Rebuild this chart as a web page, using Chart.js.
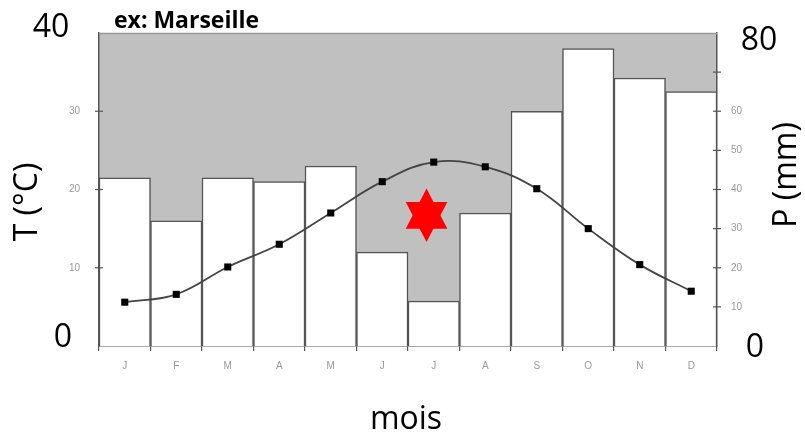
<!DOCTYPE html>
<html>
<head>
<meta charset="utf-8">
<script src="https://cdn.jsdelivr.net/npm/chart.js@4/dist/chart.umd.min.js"></script>
<style>
  html, body { margin: 0; padding: 0; background: #fff; }
  #wrap { width: 805px; height: 433px; position: relative; }
</style>
</head>
<body>
<div id="wrap"><canvas id="c"></canvas></div>
<script>
// Climate diagram for Marseille: monthly rainfall (bars) and mean temperature (line)
const months = ['J', 'F', 'M', 'A', 'M', 'J', 'J', 'A', 'S', 'O', 'N', 'D'];
const precipitation = [43, 32, 43, 42, 46, 24, 11.5, 34, 60, 76, 68.5, 65];
const temperature = [5.6, 6.6, 10.1, 13.0, 17.0, 21.0, 23.5, 22.9, 20.1, 15.0, 10.4, 7.0];
const tempTicks = [0, 10, 20, 30, 40];
const precipTicks = [0, 10, 20, 30, 40, 50, 60, 70, 80];
const tempSmallLabels = [10, 20, 30];
const precipSmallLabels = [10, 20, 30, 40, 50, 60];

const BIG_FONT = "32px 'Open Sans'";
const AXIS_GREY = '#555';

// dry-season marker placed in July
const star = { month: 5.86, temp: 16.7, r: 26.7, squeeze: 0.9 };

const climatePlugin = {
  id: 'climate',
  beforeDraw(chart) {
    const { ctx, chartArea: a } = chart;
    ctx.save();
    ctx.fillStyle = '#c0c0c0';
    ctx.fillRect(a.left, a.top, a.right - a.left, a.bottom - a.top);
    ctx.restore();
  },
  afterDatasetsDraw(chart) {
    const { ctx, chartArea: a, scales } = chart;
    ctx.save();
    // top edge of the plot
    ctx.strokeStyle = '#999';
    ctx.lineWidth = 1.5;
    ctx.beginPath();
    ctx.moveTo(a.left, a.top + 0.5);
    ctx.lineTo(a.right, a.top + 0.5);
    ctx.stroke();
    // tick marks crossing both vertical axes
    ctx.strokeStyle = AXIS_GREY;
    ctx.lineWidth = 1.2;
    tempTicks.slice(1, -1).forEach(v => {
      const y = scales.t.getPixelForValue(v);
      ctx.beginPath(); ctx.moveTo(a.left - 4, y); ctx.lineTo(a.left + 4, y); ctx.stroke();
    });
    precipTicks.slice(1, -1).forEach(v => {
      const y = scales.p.getPixelForValue(v);
      ctx.beginPath(); ctx.moveTo(a.right - 4, y); ctx.lineTo(a.right + 4, y); ctx.stroke();
    });
    // red six-pointed star
    const cx = scales.x.getPixelForValue(star.month);
    const cy = scales.t.getPixelForValue(star.temp);
    ctx.fillStyle = '#ff0000';
    [0, Math.PI].forEach(off => {
      ctx.beginPath();
      for (let k = 0; k < 3; k++) {
        const ang = -Math.PI / 2 + off + k * 2 * Math.PI / 3;
        const px = cx + Math.cos(ang) * star.r * star.squeeze;
        const py = cy + Math.sin(ang) * star.r;
        if (k === 0) ctx.moveTo(px, py); else ctx.lineTo(px, py);
      }
      ctx.closePath();
      ctx.fill();
    });
    ctx.restore();
  },
  afterDraw(chart) {
    const { ctx, chartArea: a, scales } = chart;
    ctx.save();
    ctx.fillStyle = '#000';
    ctx.textBaseline = 'alphabetic';
    ctx.textAlign = 'center';
    ctx.font = BIG_FONT;
    // scale extremes in large type
    ctx.fillText('40', a.left - 48, scales.t.getPixelForValue(40) + 4);
    ctx.fillText('0', a.left - 36, scales.t.getPixelForValue(0) + 1);
    ctx.fillText('80', a.right + 42, scales.p.getPixelForValue(80) + 17);
    ctx.fillText('0', a.right + 38, scales.p.getPixelForValue(0) + 11);
    // axis titles
    ctx.fillText('mois', 406, 429);
    ctx.textBaseline = 'middle';
    ctx.save();
    ctx.translate(28, 202);
    ctx.rotate(-Math.PI / 2);
    ctx.fillText('T (°C)', 0, 0);
    ctx.restore();
    ctx.save();
    ctx.translate(787, 175);
    ctx.rotate(-Math.PI / 2);
    ctx.fillText('P (mm)', 0, 0);
    ctx.restore();
    // station name
    ctx.textAlign = 'left';
    ctx.textBaseline = 'alphabetic';
    ctx.font = "bold 23px 'Open Sans'";
    ctx.fillText('ex: Marseille', 114, 28);
    ctx.restore();
  }
};

new Chart(document.getElementById('c'), {
  data: {
    labels: months,
    datasets: [
      {
        type: 'line',
        label: 'T',
        data: temperature,
        yAxisID: 't',
        order: 0,
        borderColor: '#444',
        borderWidth: 1.8,
        tension: 0.4,
        pointStyle: 'rect',
        pointRadius: 5,
        pointBackgroundColor: '#000',
        pointBorderWidth: 0
      },
      {
        type: 'bar',
        label: 'P',
        data: precipitation,
        yAxisID: 'p',
        order: 1,
        backgroundColor: '#ffffff',
        borderColor: '#555',
        borderWidth: 1.5,
        borderSkipped: 'bottom',
        barPercentage: 1,
        categoryPercentage: 1
      }
    ]
  },
  options: {
    responsive: true,
    maintainAspectRatio: false,
    animation: false,
    layout: { padding: { top: 33, left: 0, right: 0, bottom: 0 } },
    plugins: { legend: { display: false }, tooltip: { enabled: false } },
    scales: {
      x: {
        type: 'category',
        afterFit: s => { s.height = 87; },
        grid: { display: true, offset: true, drawOnChartArea: false, drawTicks: true, tickLength: 5, color: AXIS_GREY, lineWidth: 1.2 },
        border: { display: true, color: AXIS_GREY, width: 1.5 },
        ticks: { color: '#999', font: { family: 'Liberation Sans', size: 10 }, padding: 9, maxRotation: 0 }
      },
      t: {
        type: 'linear',
        position: 'left',
        min: 0,
        max: 40,
        afterFit: s => { s.width = 99; },
        afterBuildTicks: s => { s.ticks = tempTicks.map(v => ({ value: v })); },
        grid: { display: false },
        border: { display: true, color: AXIS_GREY, width: 1.5 },
        ticks: {
          color: '#999',
          font: { family: 'Liberation Sans', size: 10 },
          padding: 11,
          callback: v => tempSmallLabels.includes(v) ? String(v) : ''
        }
      },
      p: {
        type: 'linear',
        position: 'right',
        min: 0,
        max: 80,
        afterFit: s => { s.width = 88; },
        afterBuildTicks: s => { s.ticks = precipTicks.map(v => ({ value: v })); },
        grid: { display: false },
        border: { display: true, color: AXIS_GREY, width: 1.5 },
        ticks: {
          color: '#999',
          font: { family: 'Liberation Sans', size: 10 },
          padding: 6,
          callback: v => precipSmallLabels.includes(v) ? String(v) : ''
        }
      }
    }
  },
  plugins: [climatePlugin]
});
</script>
</body>
</html>
